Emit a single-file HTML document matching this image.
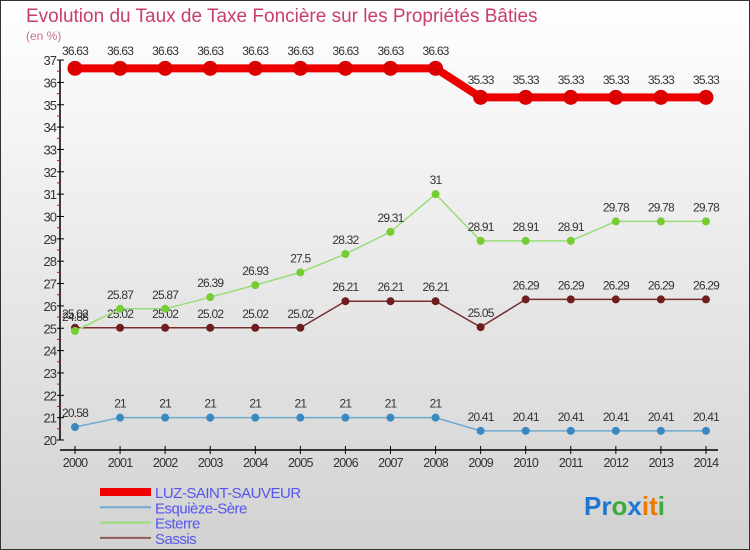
<!DOCTYPE html>
<html><head><meta charset="utf-8"><style>
body{margin:0;}
#wrap{width:750px;height:550px;position:relative;overflow:hidden;font-family:"Liberation Sans",sans-serif;}
</style></head><body>
<div id="wrap">
<svg id="svg" width="750" height="550" xmlns="http://www.w3.org/2000/svg">
<defs><linearGradient id="bg" x1="0" y1="0" x2="0" y2="1"><stop offset="0" stop-color="#ffffff"/><stop offset="1" stop-color="#d2d2d2"/></linearGradient></defs>
<rect x="0.5" y="0.5" width="749" height="549" fill="url(#bg)" stroke="#333"/>
<text x="26" y="22" font-size="19" fill="#c83c6e">Evolution du Taux de Taxe Foncière sur les Propriétés Bâties</text>
<text x="26" y="40" font-size="12" fill="#c86e8c">(en %)</text>
<g id="axes"></g><g id="series"></g><g id="legend"></g>
<text x="584" y="515" font-size="26" font-weight="bold"><tspan fill="#1e78d2">Pr</tspan><tspan fill="#3caa3c">o</tspan><tspan fill="#1e78d2">x</tspan><tspan fill="#f07800">i</tspan><tspan fill="#f07800">t</tspan><tspan fill="#3caa3c">i</tspan></text>
</svg>
</div>
<script>
const years=[2000,2001,2002,2003,2004,2005,2006,2007,2008,2009,2010,2011,2012,2013,2014];
const luz=[36.63,36.63,36.63,36.63,36.63,36.63,36.63,36.63,36.63,35.33,35.33,35.33,35.33,35.33,35.33];
const esq=[20.58,21,21,21,21,21,21,21,21,20.41,20.41,20.41,20.41,20.41,20.41];
const est=[24.88,25.87,25.87,26.39,26.93,27.5,28.32,29.31,31,28.91,28.91,28.91,29.78,29.78,29.78];
const sas=[25.02,25.02,25.02,25.02,25.02,25.02,26.21,26.21,26.21,25.05,26.29,26.29,26.29,26.29,26.29];
const yTicks=[20,21,22,23,24,25,26,27,28,29,30,31,32,33,34,35,36,37];
const NS="http://www.w3.org/2000/svg";
const X=i=>75+i*45.07;
const Y=v=>440-(v-20)*22.35;
function mk(p,t,a){const e=document.createElementNS(NS,t);for(const k in a)e.setAttribute(k,a[k]);p.appendChild(e);return e;}
const ax=document.getElementById('axes');
let l=mk(ax,'line',{x1:60,y1:Y(37),x2:60,y2:Y(20),stroke:'#000','stroke-width':1.5});


l=mk(ax,'line',{x1:60,y1:450,x2:718,y2:450,stroke:'#000','stroke-width':1.5});


yTicks.forEach(v=>{
 mk(ax,'line',{x1:57,y1:Y(v),x2:64,y2:Y(v),stroke:'#000'});
 if(v<37)mk(ax,'line',{x1:57,y1:Y(v+0.5),x2:60,y2:Y(v+0.5),stroke:'#e00'});
 const t=mk(ax,'text',{x:56,y:Y(v)+5,'font-size':13,'text-anchor':'end',fill:'#333','letter-spacing':-1});
 t.textContent=v;
 
 
});
years.forEach((y,i)=>{
 mk(ax,'line',{x1:X(i),y1:446,x2:X(i),y2:454,stroke:'#000'});
 const t=mk(ax,'text',{x:X(i),y:467,'font-size':12.5,'text-anchor':'middle',fill:'#333','letter-spacing':-0.8});
 t.textContent=y;
 
 
});
const sg=document.getElementById('series');
function series(name,data,color,dot,w,r,dec){
 const g=mk(sg,'g',{});
 
 
 mk(g,'polyline',{points:data.map((v,i)=>X(i)+','+Y(v)).join(' '),fill:'none',stroke:color,'stroke-width':w});
 data.forEach((v,i)=>{
  const c=mk(g,'circle',{cx:X(i),cy:Y(v),r:r,fill:dot});
  
  
  const t=mk(g,'text',{x:X(i),y:Y(v)-(r+6),'font-size':12,'text-anchor':'middle',fill:'#333','letter-spacing':-0.8});
  t.textContent=String(v);
 });
}
series('sassis',sas,'#7a2f2f','#6e1e1e',1.5,4);
series('esterre',est,'#99dd77','#77cc33',1.5,4);
series('esquieze-sere',esq,'#6fa8d0','#3a88c0',1.5,4);
series('luz-saint-sauveur',luz,'#ee0000','#dd0000',8,7.5);
const lg=document.getElementById('legend');
[['LUZ-SAINT-SAUVEUR','#ee0000',8],['Esquièze-Sère','#6fa8d0',2],['Esterre','#99dd77',2],['Sassis','#8c5a5a',2]].forEach((e,i)=>{
 const y=492+i*15.3;
 mk(lg,'line',{x1:100,y1:y,x2:151,y2:y,stroke:e[1],'stroke-width':e[2]});
 const t=mk(lg,'text',{x:155,y:y+6,'font-size':15,fill:'#5555ee','letter-spacing':-0.5});
 t.textContent=e[0];
 
 
});
</script>
</body></html>
